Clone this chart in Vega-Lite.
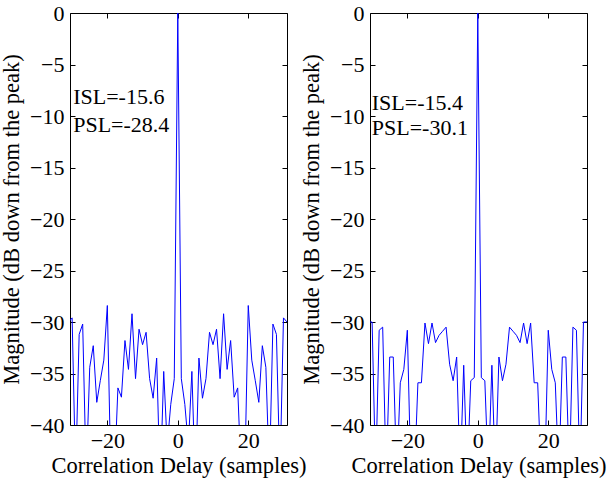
{
  "$schema": "https://vega.github.io/schema/vega-lite/v6.json",
  "background": "white",
  "padding": {"left": 0, "top": 1, "right": 1, "bottom": 2},
  "spacing": 83,
  "bounds": "flush",
  "config": {
    "view": {"stroke": "black", "strokeWidth": 1},
    "font": "Liberation Serif",
    "axis": {
      "grid": false,
      "domain": false,
      "tickColor": "black",
      "tickSize": -5,
      "labelColor": "black",
      "labelFont": "Liberation Serif",
      "labelFontSize": 22,
      "titleFont": "Liberation Serif",
      "titleFontSize": 22.5,
      "titleFontWeight": "normal",
      "titleColor": "black"
    },
    "text": {"font": "Liberation Serif", "fontSize": 22, "color": "black"}
  },
  "datasets": {
    "corr": [
      {"p":"A","lag":-31,"db":-30},{"p":"A","lag":-30,"db":-29.6},{"p":"A","lag":-29,"db":-45},{"p":"A","lag":-28,"db":-31.2},{"p":"A","lag":-27,"db":-30.2},{"p":"A","lag":-26,"db":-45},{"p":"A","lag":-25,"db":-34.4},{"p":"A","lag":-24,"db":-32.3},{"p":"A","lag":-23,"db":-37.8},{"p":"A","lag":-22,"db":-35.7},{"p":"A","lag":-21,"db":-33.7},{"p":"A","lag":-20,"db":-28.4},{"p":"A","lag":-19,"db":-45},{"p":"A","lag":-18,"db":-45},{"p":"A","lag":-17,"db":-36.4},{"p":"A","lag":-16,"db":-37.3},{"p":"A","lag":-15,"db":-31.8},{"p":"A","lag":-14,"db":-34.6},{"p":"A","lag":-13,"db":-29.2},{"p":"A","lag":-12,"db":-35.5},{"p":"A","lag":-11,"db":-30.7},{"p":"A","lag":-10,"db":-32.2},{"p":"A","lag":-9,"db":-31},{"p":"A","lag":-8,"db":-35.5},{"p":"A","lag":-7,"db":-37.4},{"p":"A","lag":-6,"db":-33.5},{"p":"A","lag":-5,"db":-46},{"p":"A","lag":-4,"db":-34.8},{"p":"A","lag":-3,"db":-42},{"p":"A","lag":-2,"db":-38},{"p":"A","lag":-1,"db":-35.5},
      {"p":"A","lag":0,"db":0},
      {"p":"A","lag":1,"db":-35.5},{"p":"A","lag":2,"db":-38},{"p":"A","lag":3,"db":-42},{"p":"A","lag":4,"db":-34.8},{"p":"A","lag":5,"db":-46},{"p":"A","lag":6,"db":-33.5},{"p":"A","lag":7,"db":-37.4},{"p":"A","lag":8,"db":-35.5},{"p":"A","lag":9,"db":-31},{"p":"A","lag":10,"db":-32.2},{"p":"A","lag":11,"db":-30.7},{"p":"A","lag":12,"db":-35.5},{"p":"A","lag":13,"db":-29.2},{"p":"A","lag":14,"db":-34.6},{"p":"A","lag":15,"db":-31.8},{"p":"A","lag":16,"db":-37.3},{"p":"A","lag":17,"db":-36.4},{"p":"A","lag":18,"db":-45},{"p":"A","lag":19,"db":-45},{"p":"A","lag":20,"db":-28.4},{"p":"A","lag":21,"db":-33.7},{"p":"A","lag":22,"db":-35.7},{"p":"A","lag":23,"db":-37.8},{"p":"A","lag":24,"db":-32.3},{"p":"A","lag":25,"db":-34.4},{"p":"A","lag":26,"db":-45},{"p":"A","lag":27,"db":-30.2},{"p":"A","lag":28,"db":-31.2},{"p":"A","lag":29,"db":-45},{"p":"A","lag":30,"db":-29.6},{"p":"A","lag":31,"db":-30},
      {"p":"B","lag":-31,"db":-30},{"p":"B","lag":-30,"db":-30},{"p":"B","lag":-29,"db":-45},{"p":"B","lag":-28,"db":-30.8},{"p":"B","lag":-27,"db":-30.5},{"p":"B","lag":-26,"db":-45},{"p":"B","lag":-25,"db":-33.4},{"p":"B","lag":-24,"db":-33.4},{"p":"B","lag":-23,"db":-45},{"p":"B","lag":-22,"db":-35.9},{"p":"B","lag":-21,"db":-34.6},{"p":"B","lag":-20,"db":-30.8},{"p":"B","lag":-19,"db":-45},{"p":"B","lag":-18,"db":-45},{"p":"B","lag":-17,"db":-35.9},{"p":"B","lag":-16,"db":-35.9},{"p":"B","lag":-15,"db":-30.1},{"p":"B","lag":-14,"db":-32.1},{"p":"B","lag":-13,"db":-30.1},{"p":"B","lag":-12,"db":-32},{"p":"B","lag":-11,"db":-31.3},{"p":"B","lag":-10,"db":-30.9},{"p":"B","lag":-9,"db":-30.5},{"p":"B","lag":-8,"db":-34.1},{"p":"B","lag":-7,"db":-35.7},{"p":"B","lag":-6,"db":-33.4},{"p":"B","lag":-5,"db":-45},{"p":"B","lag":-4,"db":-34.2},{"p":"B","lag":-3,"db":-45},{"p":"B","lag":-2,"db":-35.7},{"p":"B","lag":-1,"db":-35.4},
      {"p":"B","lag":0,"db":0},
      {"p":"B","lag":1,"db":-35.4},{"p":"B","lag":2,"db":-35.7},{"p":"B","lag":3,"db":-45},{"p":"B","lag":4,"db":-34.2},{"p":"B","lag":5,"db":-45},{"p":"B","lag":6,"db":-33.4},{"p":"B","lag":7,"db":-35.7},{"p":"B","lag":8,"db":-34.1},{"p":"B","lag":9,"db":-30.5},{"p":"B","lag":10,"db":-30.9},{"p":"B","lag":11,"db":-31.3},{"p":"B","lag":12,"db":-32},{"p":"B","lag":13,"db":-30.1},{"p":"B","lag":14,"db":-32.1},{"p":"B","lag":15,"db":-30.1},{"p":"B","lag":16,"db":-35.9},{"p":"B","lag":17,"db":-35.9},{"p":"B","lag":18,"db":-45},{"p":"B","lag":19,"db":-45},{"p":"B","lag":20,"db":-30.8},{"p":"B","lag":21,"db":-34.6},{"p":"B","lag":22,"db":-35.9},{"p":"B","lag":23,"db":-45},{"p":"B","lag":24,"db":-33.4},{"p":"B","lag":25,"db":-33.4},{"p":"B","lag":26,"db":-45},{"p":"B","lag":27,"db":-30.5},{"p":"B","lag":28,"db":-30.8},{"p":"B","lag":29,"db":-45},{"p":"B","lag":30,"db":-30},{"p":"B","lag":31,"db":-30}
    ],
    "notes": [
      {"p":"A","label":"ISL=-15.6","lx":-29.7,"ly":-8.2},
      {"p":"A","label":"PSL=-28.4","lx":-29.7,"ly":-10.85},
      {"p":"B","label":"ISL=-15.4","lx":-30.1,"ly":-8.7},
      {"p":"B","label":"PSL=-30.1","lx":-30.1,"ly":-11.2}
    ]
  },
  "hconcat": [
    {
      "width": 217,
      "height": 412,
      "layer": [
        {
          "data": {"name": "corr"},
          "transform": [{"filter": "datum.p === 'A'"}],
          "mark": {"type": "line", "color": "#0000ff", "strokeWidth": 1, "clip": true},
          "encoding": {
            "x": {"field": "lag", "type": "quantitative", "scale": {"domain": [-30.6, 31], "nice": false, "zero": false},
                  "axis": {"orient": "bottom", "values": [-20, 0, 20], "title": "Correlation Delay (samples)", "labelPadding": 10, "titlePadding": 3}},
            "y": {"field": "db", "type": "quantitative", "scale": {"domain": [-40, 0], "nice": false},
                  "axis": {"orient": "left", "values": [-40, -35, -30, -25, -20, -15, -10, -5, 0], "title": "Magnitude (dB down from the peak)", "labelPadding": 11, "titlePadding": 6}}
          }
        },
        {
          "data": {"name": "corr"},
          "transform": [{"filter": "datum.p === 'A'"}],
          "mark": {"type": "line", "opacity": 0},
          "encoding": {
            "x": {"field": "lag", "type": "quantitative", "scale": {"domain": [-30.6, 31], "nice": false, "zero": false},
                  "axis": {"orient": "top", "values": [-20, 0, 20], "labels": false, "title": null}},
            "y": {"field": "db", "type": "quantitative", "scale": {"domain": [-40, 0], "nice": false},
                  "axis": {"orient": "right", "values": [-40, -35, -30, -25, -20, -15, -10, -5, 0], "labels": false, "title": null}}
          }
        },
        {
          "data": {"name": "notes"},
          "transform": [{"filter": "datum.p === 'A'"}],
          "mark": {"type": "text", "align": "left", "baseline": "middle"},
          "encoding": {
            "x": {"field": "lx", "type": "quantitative", "scale": {"domain": [-30.6, 31], "nice": false, "zero": false}, "axis": null},
            "y": {"field": "ly", "type": "quantitative", "scale": {"domain": [-40, 0], "nice": false}, "axis": null},
            "text": {"field": "label"}
          }
        }
      ],
      "resolve": {"axis": {"x": "independent", "y": "independent"}}
    },
    {
      "width": 217,
      "height": 412,
      "layer": [
        {
          "data": {"name": "corr"},
          "transform": [{"filter": "datum.p === 'B'"}],
          "mark": {"type": "line", "color": "#0000ff", "strokeWidth": 1, "clip": true},
          "encoding": {
            "x": {"field": "lag", "type": "quantitative", "scale": {"domain": [-30.6, 31], "nice": false, "zero": false},
                  "axis": {"orient": "bottom", "values": [-20, 0, 20], "title": "Correlation Delay (samples)", "labelPadding": 10, "titlePadding": 3}},
            "y": {"field": "db", "type": "quantitative", "scale": {"domain": [-40, 0], "nice": false},
                  "axis": {"orient": "left", "values": [-40, -35, -30, -25, -20, -15, -10, -5, 0], "title": "Magnitude (dB down from the peak)", "labelPadding": 11, "titlePadding": 6}}
          }
        },
        {
          "data": {"name": "corr"},
          "transform": [{"filter": "datum.p === 'B'"}],
          "mark": {"type": "line", "opacity": 0},
          "encoding": {
            "x": {"field": "lag", "type": "quantitative", "scale": {"domain": [-30.6, 31], "nice": false, "zero": false},
                  "axis": {"orient": "top", "values": [-20, 0, 20], "labels": false, "title": null}},
            "y": {"field": "db", "type": "quantitative", "scale": {"domain": [-40, 0], "nice": false},
                  "axis": {"orient": "right", "values": [-40, -35, -30, -25, -20, -15, -10, -5, 0], "labels": false, "title": null}}
          }
        },
        {
          "data": {"name": "notes"},
          "transform": [{"filter": "datum.p === 'B'"}],
          "mark": {"type": "text", "align": "left", "baseline": "middle"},
          "encoding": {
            "x": {"field": "lx", "type": "quantitative", "scale": {"domain": [-30.6, 31], "nice": false, "zero": false}, "axis": null},
            "y": {"field": "ly", "type": "quantitative", "scale": {"domain": [-40, 0], "nice": false}, "axis": null},
            "text": {"field": "label"}
          }
        }
      ],
      "resolve": {"axis": {"x": "independent", "y": "independent"}}
    }
  ]
}
